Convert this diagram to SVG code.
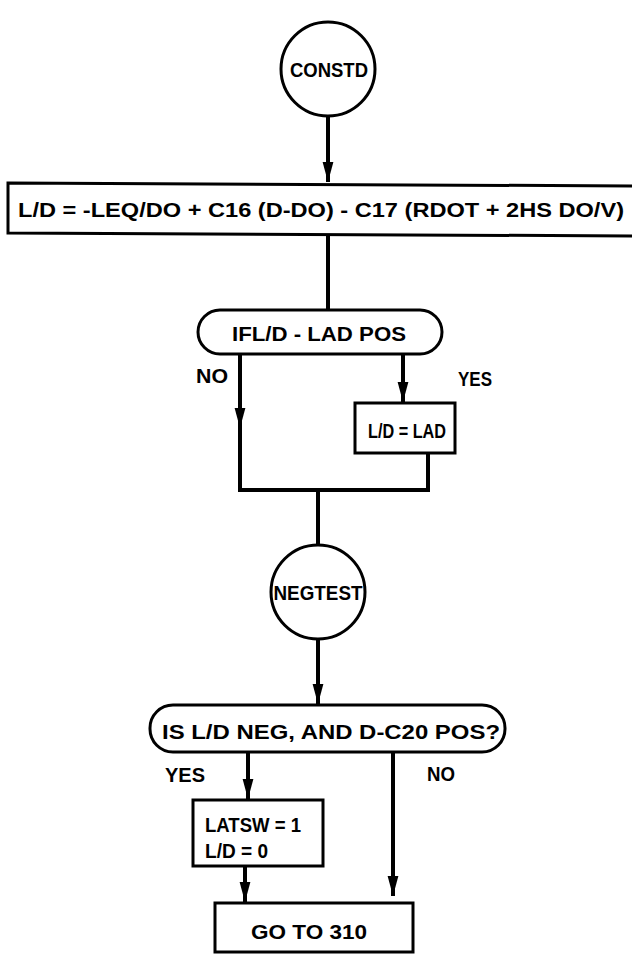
<svg xmlns="http://www.w3.org/2000/svg" width="632" height="970" viewBox="0 0 632 970">
<style>
.shape{fill:#fff;stroke:#000;stroke-width:3}
.ln{fill:none;stroke:#000;stroke-width:4}
.t{font-family:"Liberation Sans",Arial,sans-serif;font-weight:bold;fill:#000;font-size:21px}
.c{text-anchor:middle}
</style>
<defs>
<marker id="ah" viewBox="0 0 10 24" refX="10" refY="12" markerWidth="5" markerHeight="12" markerUnits="strokeWidth" orient="auto">
<path d="M0,9.3 L10,12 L0,14.7 Z" fill="#000"/>
</marker>
</defs>
<rect width="632" height="970" fill="#fff"/>
<g id="connectors">
<path class="ln" d="M328,115 V182" marker-end="url(#ah)"/>
<path class="ln" d="M328,235 V309"/>
<path class="ln" d="M240,354 V428" marker-end="url(#ah)"/>
<path class="ln" d="M240,420 V490 H428 V453"/>
<path class="ln" d="M403,354 V402" marker-end="url(#ah)"/>
<path class="ln" d="M318,490 V545"/>
<path class="ln" d="M318,639 V704" marker-end="url(#ah)"/>
<path class="ln" d="M248,752 V799" marker-end="url(#ah)"/>
<path class="ln" d="M245,866 V902" marker-end="url(#ah)"/>
<path class="ln" d="M393,752 V896" marker-end="url(#ah)"/>
</g>
<g id="constd">
<circle class="shape" cx="328" cy="69" r="47"/>
<text class="t c" x="329" y="77" textLength="78" lengthAdjust="spacingAndGlyphs">CONSTD</text>
</g>
<g id="formula">
<path class="shape" d="M8,183 L640,186 L640,236 L8,233 Z"/>
<text class="t" x="18" y="217" textLength="606" lengthAdjust="spacingAndGlyphs">L/D = -LEQ/DO + C16 (D-DO) - C17 (RDOT + 2HS DO/V)</text>
</g>
<g id="test1">
<rect class="shape" x="198" y="310" width="244" height="44" rx="22"/>
<text class="t c" x="319" y="341" textLength="174" lengthAdjust="spacingAndGlyphs">IFL/D - LAD POS</text>
</g>
<g id="labels1">
<text class="t" x="196" y="383" textLength="32" lengthAdjust="spacingAndGlyphs">NO</text>
<text class="t" x="458" y="386" textLength="34" lengthAdjust="spacingAndGlyphs">YES</text>
</g>
<g id="setlad">
<rect class="shape" x="355" y="403" width="100" height="50"/>
<text class="t c" x="407" y="438" textLength="78" lengthAdjust="spacingAndGlyphs">L/D = LAD</text>
</g>
<g id="negtest">
<circle class="shape" cx="318" cy="592" r="47"/>
<text class="t c" x="318" y="600" textLength="89" lengthAdjust="spacingAndGlyphs">NEGTEST</text>
</g>
<g id="test2">
<rect class="shape" x="150" y="705" width="355" height="47" rx="23"/>
<text class="t c" x="331" y="739" textLength="338" lengthAdjust="spacingAndGlyphs">IS L/D NEG, AND D-C20 POS?</text>
</g>
<g id="labels2">
<text class="t" x="165" y="782" textLength="40" lengthAdjust="spacingAndGlyphs">YES</text>
<text class="t" x="427" y="781" textLength="28" lengthAdjust="spacingAndGlyphs">NO</text>
</g>
<g id="latsw">
<rect class="shape" x="193" y="800" width="130" height="66"/>
<text class="t" x="205" y="832" textLength="96" lengthAdjust="spacingAndGlyphs">LATSW = 1</text>
<text class="t" x="205" y="858" textLength="63" lengthAdjust="spacingAndGlyphs">L/D = 0</text>
</g>
<g id="goto">
<rect class="shape" x="215" y="903" width="198" height="49"/>
<text class="t c" x="309" y="939" textLength="116" lengthAdjust="spacingAndGlyphs">GO TO 310</text>
</g>
</svg>
